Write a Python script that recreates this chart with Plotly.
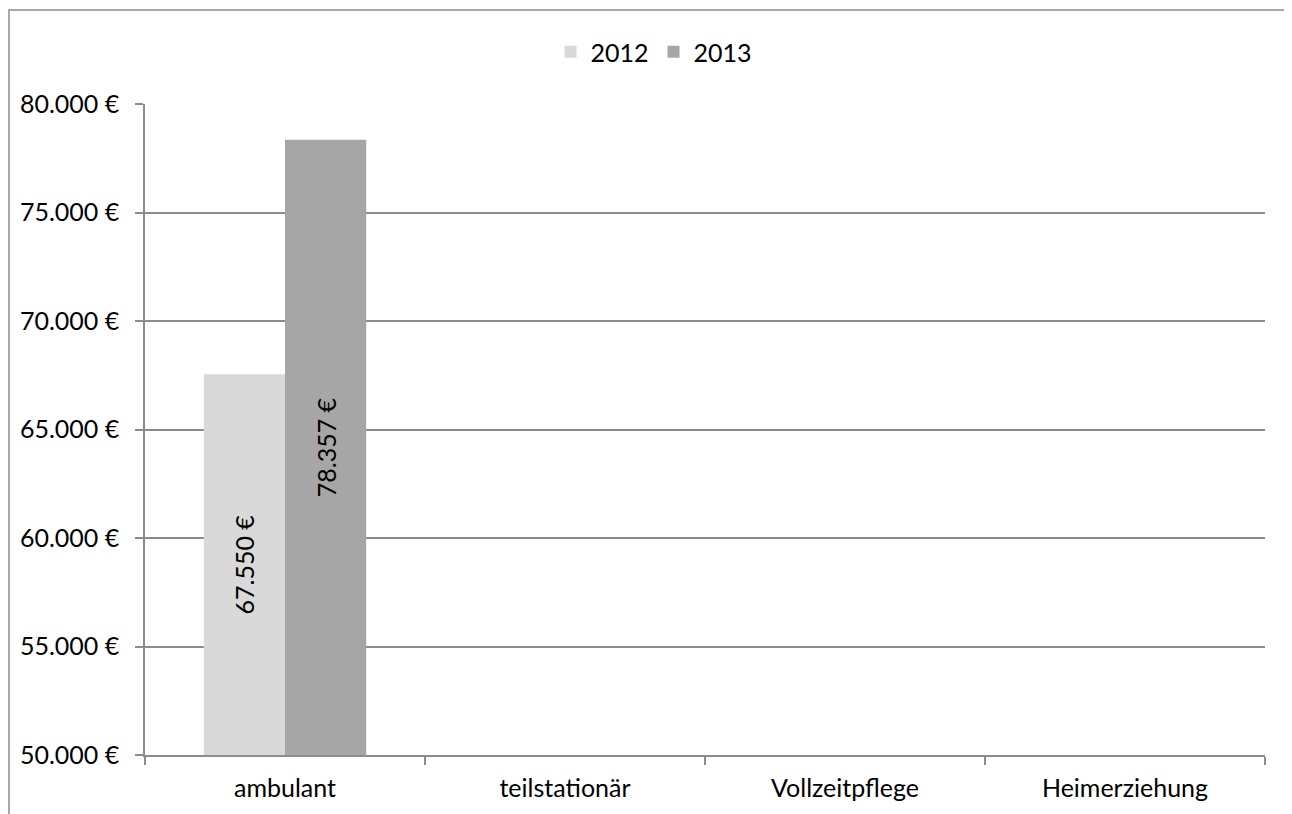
import plotly.graph_objects as go

categories = ["ambulant", "teilstationär", "Vollzeitpflege", "Heimerziehung"]
series_names = ["2012", "2013"]
values_2012 = [67550, None, None, None]
values_2013 = [78357, None, None, None]
y_ticks = [50000, 55000, 60000, 65000, 70000, 75000, 80000]
y_min, y_max = y_ticks[0], y_ticks[-1]


def euro(v):
    return f"{v:,.0f}".replace(",", ".") + " €"


y_ticktext = [euro(v) for v in y_ticks]

colors = ["#D9D9D9", "#A6A6A6"]
FONT = "Lato, 'Open Sans', sans-serif"
FS = 25
GRID = "#8C8C8C"

fig = go.Figure()
for name, vals, col in zip(series_names, [values_2012, values_2013], colors):
    heights = [None if v is None else v - y_min for v in vals]
    labels = ["" if v is None else euro(v) for v in vals]
    fig.add_trace(go.Bar(
        name=name, x=categories, y=heights, base=y_min,
        text=labels, texttemplate="%{text}", hovertemplate="%{x}: %{text}<extra>" + name + "</extra>",
        marker=dict(color=col, line=dict(width=0)),
        textposition="inside", insidetextanchor="middle", constraintext="none",
        textangle=-90, textfont=dict(family=FONT, size=FS, color="#000000"),
    ))

# page has 8px body margin, so figure coords = page coords - 8
OFF = 8
W, H = 1292 - OFF, 814 - OFF
L, R, T, B = 145 - OFF, W - (1265 - OFF), 104 - OFF, H - (755 - OFF)
pw, ph = W - L - R, H - T - B


def px_to_paper_x(px):
    return (px - OFF - L) / pw


def px_to_paper_y(py):
    return (H - B - (py - OFF)) / ph


fig.update_layout(
    width=W, height=H,
    margin=dict(l=L, r=R, t=T, b=B, autoexpand=False),
    paper_bgcolor="white", plot_bgcolor="white",
    barmode="group", bargap=0.42, bargroupgap=0,
    font=dict(family=FONT, size=FS, color="#000000"),
    showlegend=True,
    legend=dict(orientation="h", x=px_to_paper_x(654), xanchor="center",
                y=px_to_paper_y(52), yanchor="middle",
                font=dict(family=FONT, size=FS, color="#000000"),
                itemwidth=30, bgcolor="rgba(0,0,0,0)"),
    xaxis=dict(type="category", categoryorder="array", categoryarray=categories,
               range=[-0.5, len(categories) - 0.5],
               showline=True, linecolor=GRID, linewidth=1.5,
               ticks="outside", tickson="boundaries", ticklen=8, tickcolor=GRID, tickwidth=1.5,
               ticklabelstandoff=10,
               showgrid=False, tickfont=dict(family=FONT, size=FS, color="#000000")),
    yaxis=dict(range=[y_min, y_max], tickvals=y_ticks, ticktext=y_ticktext,
               showline=True, linecolor=GRID, linewidth=1.5,
               ticks="outside", ticklen=8, tickcolor=GRID, tickwidth=1.5,
               showgrid=True, gridcolor=GRID, gridwidth=1.5, zeroline=False,
               ticklabelstandoff=11,
               tickfont=dict(family=FONT, size=FS, color="#000000")),
    shapes=[dict(type="rect", xref="paper", yref="paper",
                 x0=px_to_paper_x(9), x1=px_to_paper_x(1330),
                 y0=px_to_paper_y(850), y1=px_to_paper_y(10),
                 line=dict(color=GRID, width=1.5), fillcolor="rgba(0,0,0,0)", layer="below")],
)

fig.write_html("out.html")
